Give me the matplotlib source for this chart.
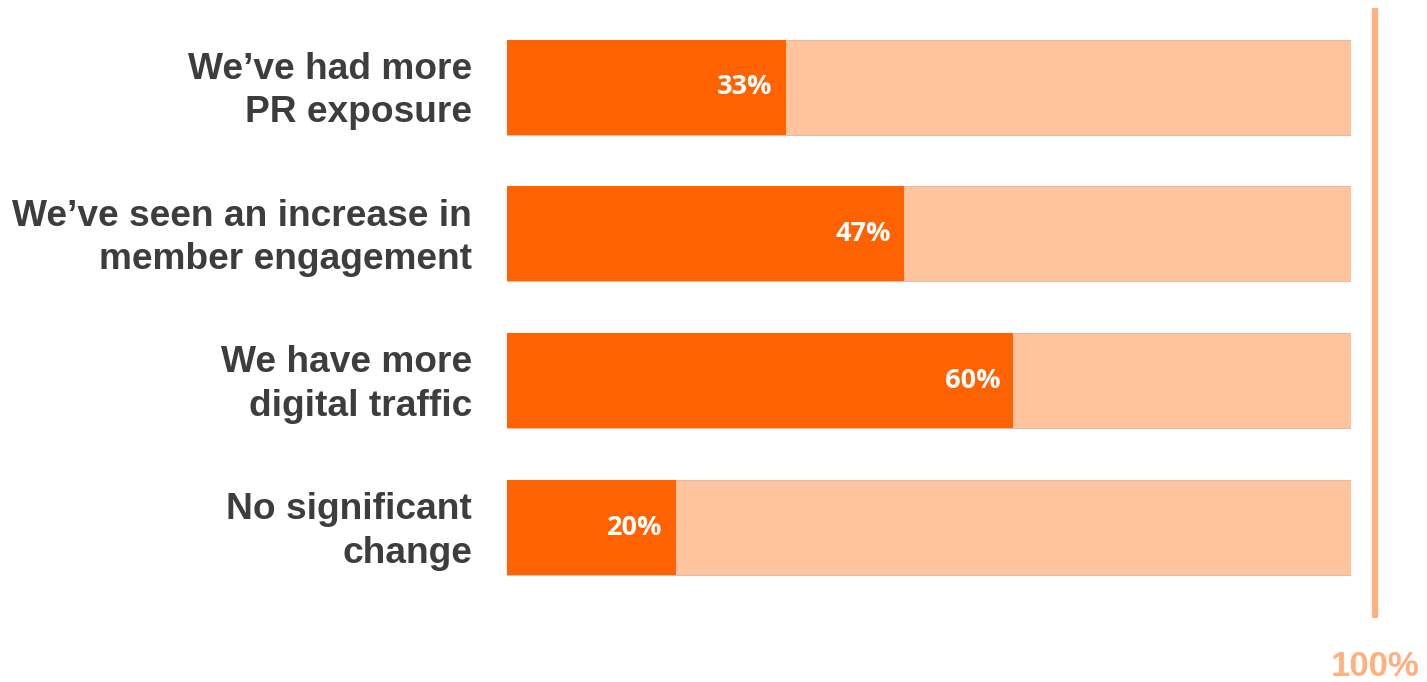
import matplotlib.pyplot as plt

# data
categories = ["We\u2019ve had more\nPR exposure",
              "We\u2019ve seen an increase in\nmember engagement",
              "We have more\ndigital traffic",
              "No significant\nchange"]
values = [33, 47, 60, 20]
total = 100

dark = "#FF6200"
light = "#FFC39E"
line_col = "#FFB07F"
text_col = "#3D3D3D"

fig = plt.figure(figsize=(14.27, 6.82), dpi=100)
ax = fig.add_axes([507 / 1427, 1 - 601 / 682, 844 / 1427, 587.4 / 682])

y = list(range(len(categories)))
ax.barh(y, [total] * len(values), height=0.647, color=light,
        edgecolor="#E3BBA3", linewidth=0.8)
ax.barh(y, values, height=0.647, color=dark, edgecolor="none")

for yi, v, cat in zip(y, values, categories):
    ax.annotate(f"{v}%", xy=(v, yi), xytext=(-13, 0), textcoords="offset pixels",
                ha="right", va="center", color="white", fontsize=19.5,
                fontweight="bold", family="Open Sans")
    ax.annotate(cat, xy=(0, yi), xytext=(-35, -4), textcoords="offset pixels",
                ha="right", va="center", color=text_col, fontsize=26.7,
                fontweight="bold", family="Liberation Sans", linespacing=1.32,
                multialignment="right")

ax.set_xlim(0, total)
ax.set_ylim(len(categories) - 0.5, -0.5)
ax.axis("off")

# 100% reference line
ax.axvline(102.85, ymin=-0.029, ymax=1.0095, color=line_col, linewidth=4.5,
           clip_on=False, solid_capstyle="butt")
ax.annotate("100%", xy=(102.85, 0), xycoords=("data", "axes fraction"),
            xytext=(0, -66), textcoords="offset pixels", ha="center",
            va="center", color=line_col, fontsize=25, fontweight="bold",
            family="Liberation Sans", annotation_clip=False)

fig.savefig("out.png", dpi=100)
